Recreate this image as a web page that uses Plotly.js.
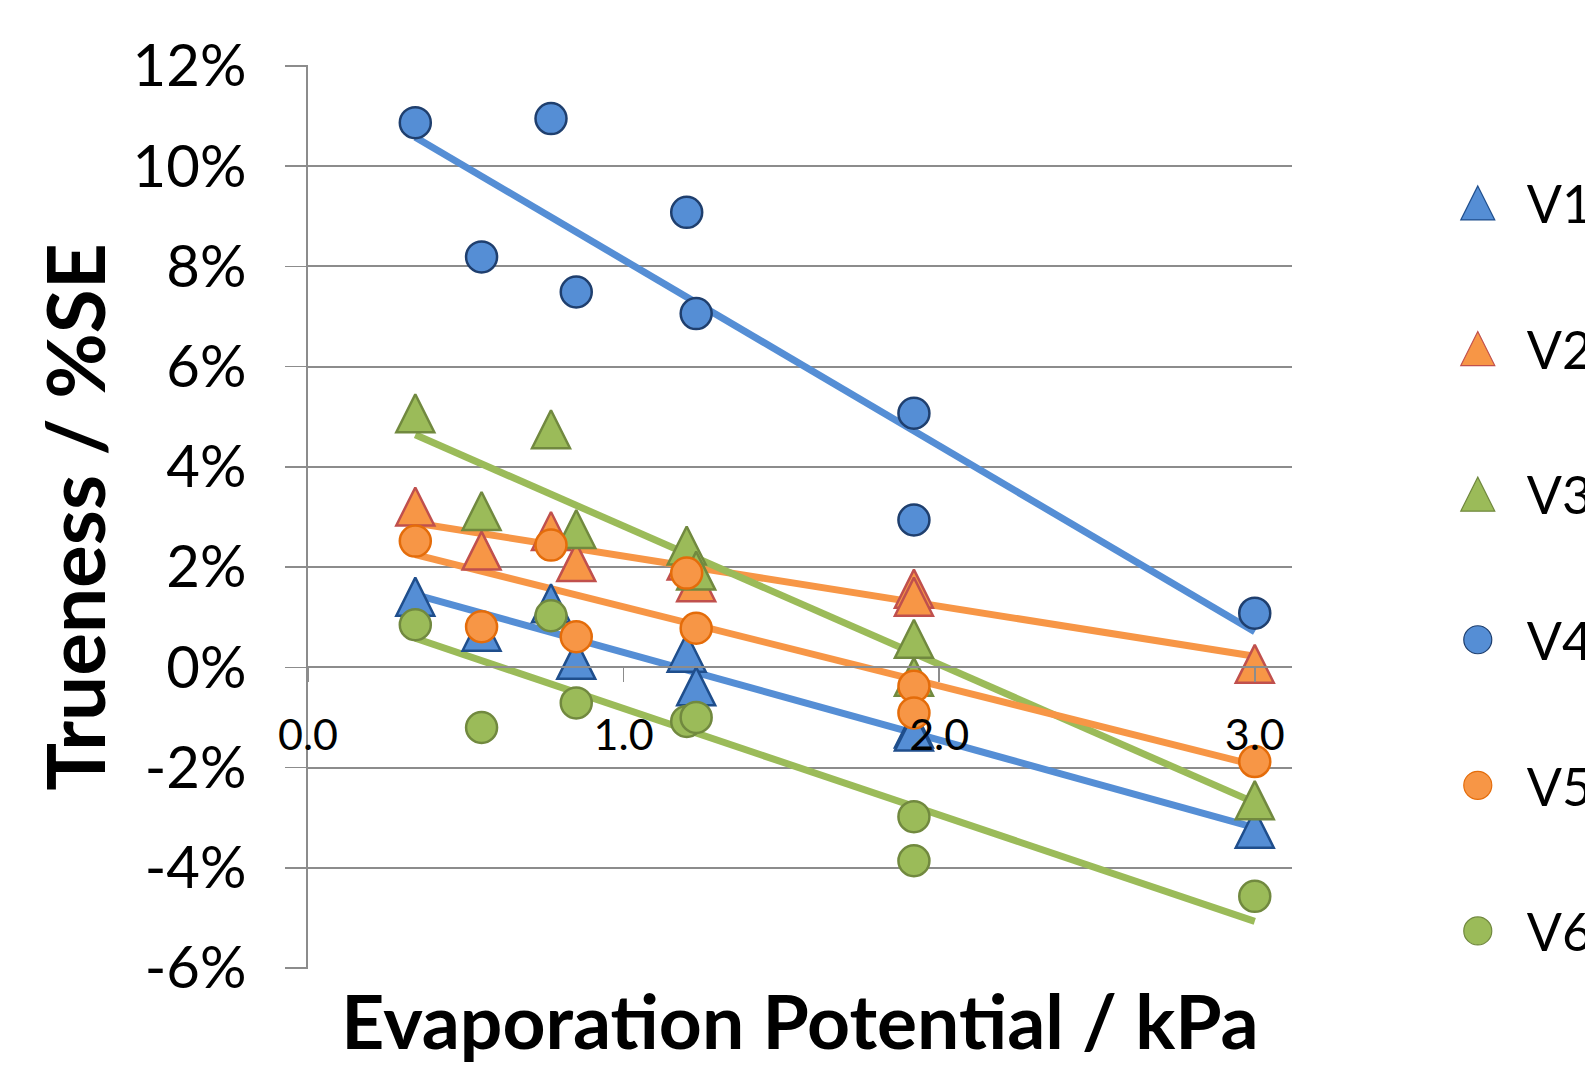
<!DOCTYPE html>
<html>
<head>
<meta charset="utf-8">
<script src="https://cdn.plot.ly/plotly-3.0.1.min.js"></script>
<style>
  html, body { margin: 0; padding: 0; background: #ffffff; }
  #chart { width: 1585px; height: 1065px; }
</style>
</head>
<body>
<div id="chart"></div>
<script>
// ---- data ----
const seriesNames = ["V1", "V2", "V3", "V4", "V5", "V6"];
// evaporation potential (kPa) of each measurement
const evapX = [0.34, 0.55, 0.77, 0.85, 1.20, 1.23, 1.92, 1.92, 3.00];
// trueness (%SE) per series
const v1 = [1.41, 0.71, 1.28, 0.15, 0.29, -0.38, -1.22, -1.28, -3.22];
const v2 = [3.21, 2.33, 2.72, 2.10, 2.13, 1.70, 1.57, 1.41, 0.07];
const v3 = [5.07, 3.12, 4.75, 2.76, 2.43, 1.93, 0.57, -0.19, -2.65];
const v4 = [10.87, 8.19, 10.95, 7.49, 9.08, 7.06, 5.07, 2.94, 1.08];
const v5 = [2.52, 0.81, 2.44, 0.61, 1.88, 0.78, -0.38, -0.91, -1.88];
const v6 = [0.85, -1.20, 1.03, -0.71, -1.08, -1.00, -2.98, -3.86, -4.57];
// linear trendlines: value at first and last x
const trendX = [0.34, 3.00];
const trendStart = [1.45, 2.88, 4.64, 10.58, 2.25, 0.58];
const trendEnd = [-3.20, 0.22, -2.70, 0.71, -1.95, -5.07];
// axis ticks
const yTickVals = [-6, -4, -2, 0, 2, 4, 6, 8, 10, 12];
const yTickText = ["-6%", "-4%", "-2%", "0%", "2%", "4%", "6%", "8%", "10%", "12%"];
const xTickVals = [0, 1, 2, 3];
const xTickText = ["0.0", "1.0", "2.0", "3.0"];

// ---- styling ----
const seriesValues = [v1, v2, v3, v4, v5, v6];
const fills = ["#558ED5", "#F79646", "#9BBB59", "#558ED5", "#F79646", "#9BBB59"];
const outlines = ["#1F4E8C", "#C0504D", "#71893F", "#1F3F6E", "#E46C0A", "#71893F"];
const lineColors = ["#558ED5", "#F79646", "#9BBB59", "#558ED5", "#F79646", "#9BBB59"];
const isTriangle = [true, true, true, false, false, false];
const FONT = 'Lato, "Open Sans", sans-serif';
const GRID = '#8c8c8c';

const traces = [];
// trendlines first (below markers)
for (let i = 0; i < 6; i++) {
  traces.push({
    type: 'scatter', mode: 'lines',
    x: trendX, y: [trendStart[i], trendEnd[i]],
    line: { color: lineColors[i], width: 7 },
    showlegend: false, hoverinfo: 'skip'
  });
}
for (let i = 0; i < 6; i++) {
  const tri = isTriangle[i];
  traces.push({
    type: 'scatter', mode: 'markers', name: seriesNames[i],
    legendgroup: seriesNames[i],
    x: evapX, y: seriesValues[i],
    marker: tri ? {
      symbol: 'arrow-down', angle: 180, standoff: 19, size: 38,
      color: fills[i], line: { color: outlines[i], width: 2.5 }
    } : {
      symbol: 'circle', size: 31,
      color: fills[i], line: { color: outlines[i], width: 2.5 }
    }
  });
}

const layout = {
  width: 1585, height: 1065,
  paper_bgcolor: '#ffffff', plot_bgcolor: '#ffffff',
  margin: { l: 308, r: 293, t: 65, b: 96, autoexpand: false },
  font: { family: FONT, color: '#000000' },
  showlegend: true,
  legend: {
    x: 1.139, xanchor: 'left', y: 0.892, yanchor: 'top',
    font: { family: FONT, size: 52, color: '#000000' },
    itemwidth: 88, tracegroupgap: 75,
    bgcolor: 'rgba(0,0,0,0)', borderwidth: 0
  },
  xaxis: {
    range: [0, 3.118], anchor: 'free', position: 6.02 / 18.04,
    tickvals: xTickVals, ticktext: xTickText,
    ticks: 'outside', ticklen: 14, tickwidth: 1.5, tickcolor: GRID,
    ticklabelstandoff: 16,
    tickfont: { family: FONT, size: 43, color: '#000000' },
    showline: true, linecolor: GRID, linewidth: 2,
    showgrid: false, zeroline: false,
    title: { text: 'Evaporation Potential / kPa', standoff: 243,
             font: { family: FONT, size: 75, color: '#000000', weight: 'bold' } }
  },
  yaxis: {
    range: [-6.02, 12.02], anchor: 'x',
    tickvals: yTickVals, ticktext: yTickText,
    ticks: 'outside', ticklen: 21, tickwidth: 1.5, tickcolor: GRID,
    ticklabelstandoff: 27,
    tickfont: { family: FONT, size: 58, color: '#000000' },
    showline: true, linecolor: GRID, linewidth: 2,
    showgrid: true, gridcolor: GRID, gridwidth: 2,
    zeroline: false,
    title: { text: 'Trueness / %SE', standoff: 1,
             font: { family: FONT, size: 80, color: '#000000', weight: 'bold' } }
  }
};

Plotly.newPlot('chart', traces, layout, { displayModeBar: false, staticPlot: true }).then(function (gd) {
  // enlarge legend symbols (plotly caps them at 16px)
  const pts = gd.querySelectorAll('.legend .traces');
  pts.forEach(function (tr, idx) {
    const p = tr.querySelector('.legendpoints path.scatterpts');
    if (!p) return;
    const bb = p.getBBox();
    const target = isTriangle[idx] ? 34 : 28;
    const k = target / Math.max(bb.width, 1);
    const cx = bb.x + bb.width / 2, cy = bb.y + bb.height / 2;
    const t = p.getAttribute('transform') || '';
    p.setAttribute('transform', t + ' scale(' + k + ') translate(' + (-cx) + ',' + (-cy) + ')');
    p.style.strokeWidth = (1.2 / k) + 'px';
  });
});
</script>
</body>
</html>
